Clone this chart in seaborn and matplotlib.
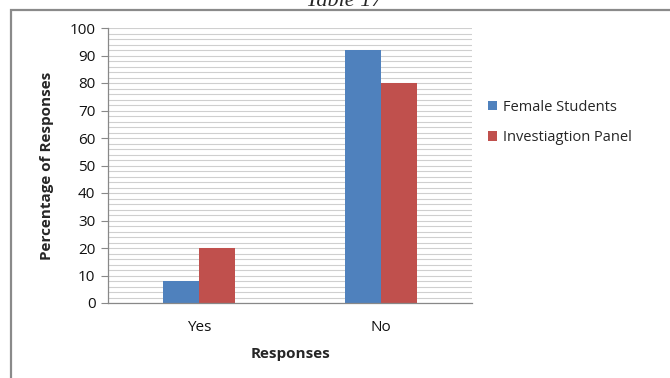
import matplotlib
matplotlib.use("Agg")
import matplotlib.pyplot as plt
from matplotlib.ticker import MultipleLocator
from matplotlib.patches import Rectangle, Patch
import seaborn as sns
import pandas as pd

# Survey responses (percentage)
responses = ["Yes", "No"]
female_students = [8, 92]
investigation_panel = [20, 80]
series_names = ["Female Students", "Investiagtion Panel"]
colors = ["#4F81BD", "#C0504D"]

df = pd.DataFrame({
    "Response": responses * 2,
    "Percent": female_students + investigation_panel,
    "Group": [series_names[0]] * 2 + [series_names[1]] * 2,
})

sns.set_theme(style="white")
plt.rcParams["font.family"] = ["Open Sans", "DejaVu Sans"]

W, H = 670, 378
fig = plt.figure(figsize=(W / 100, H / 100), dpi=100)
ax = fig.add_axes([108 / W, 1 - 303 / H, (472 - 108) / W, (303 - 28) / H])

sns.barplot(data=df, x="Response", y="Percent", hue="Group", order=responses,
            hue_order=series_names, palette=colors, width=0.4, gap=0,
            saturation=1, ax=ax, legend=False, edgecolor="none")

ax.set_xlim(-0.5, 1.5)
ax.set_ylim(0, 100)
ax.yaxis.set_major_locator(MultipleLocator(10))
ax.yaxis.set_minor_locator(MultipleLocator(2))
ax.grid(True, axis="y", which="both", color="#cfcfcf", lw=0.8)
ax.set_axisbelow(True)

for s in ["top", "right"]:
    ax.spines[s].set_visible(False)
ax.spines["left"].set_color("#888888")
ax.spines["bottom"].set_color("#888888")
ax.spines["left"].set_linewidth(0.9)
ax.spines["bottom"].set_linewidth(0.9)

ax.tick_params(axis="y", which="major", direction="out", length=5, width=0.8,
               color="#888888", labelsize=11, pad=4, left=True)
ax.tick_params(axis="y", which="minor", length=0)
ax.tick_params(axis="x", length=0, labelsize=11, pad=12)
for lbl in ax.get_xticklabels() + ax.get_yticklabels():
    lbl.set_color("#111111")

ax.set_xlabel("Responses", fontsize=11, fontweight="bold", labelpad=9)
ax.set_ylabel("Percentage of Responses", fontsize=11, fontweight="bold", labelpad=11)

handles = [Patch(facecolor=c, edgecolor="none") for c in colors]
fig.legend(handles, series_names, loc="upper left",
           bbox_to_anchor=(482 / W, 1 - 94 / H), frameon=False, fontsize=10.5,
           handlelength=0.6, handleheight=0.6, handletextpad=0.45,
           labelspacing=1.05, borderaxespad=0)

# Outer chart frame
fig.patches.append(Rectangle((11 / W, -0.1), 1.2, 1 - 9.5 / H + 0.1,
                             transform=fig.transFigure, fill=False,
                             edgecolor="#8a8a8a", lw=1.6))

# Caption above the frame
fig.text(344 / W, 1 - 6 / H, "Table 17", ha="center", va="baseline",
         fontsize=16, style="italic", family=["Liberation Serif", "DejaVu Serif"])

fig.savefig("out.png", dpi=100)
